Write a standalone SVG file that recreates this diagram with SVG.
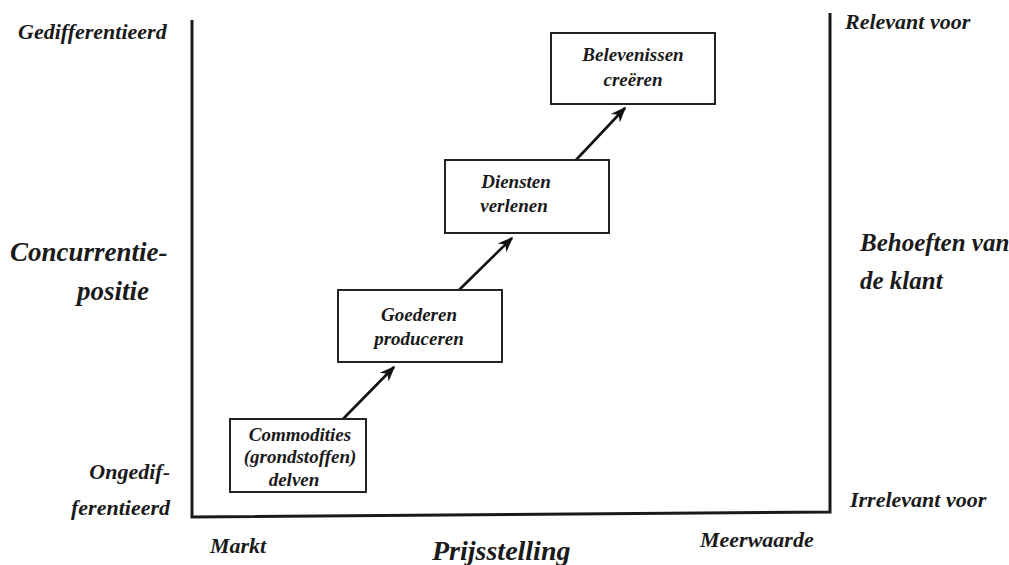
<svg xmlns="http://www.w3.org/2000/svg" width="1009" height="565" viewBox="0 0 1009 565">
  <style>
    .lbl { font-family: "Liberation Serif", "DejaVu Serif", serif; font-style: italic; font-weight: bold; fill: #1a1a1a; }
    .axis { fill: none; stroke: #1a1a1a; stroke-width: 3; }
    .box { fill: #fff; stroke: #222; stroke-width: 2; }
    .btxt { font-size: 19px; text-anchor: middle; }
    .conn { stroke: #111; stroke-width: 2.6; fill: none; marker-end: url(#ah); }
  </style>
  <defs>
    <marker id="ah" viewBox="0 0 10 10" refX="9" refY="5" markerWidth="6" markerHeight="6" markerUnits="strokeWidth" orient="auto">
      <path d="M0,1 L10,5 L0,9 L3,5 Z" fill="#111"/>
    </marker>
  </defs>
  <rect width="1009" height="565" fill="#fff"/>

  <!-- axes frame -->
  <g id="axes">
    <path class="axis" d="M192,20 L192,517 L830,512 L830,13"/>
  </g>

  <!-- axis labels -->
  <g id="labels" class="lbl">
    <text x="18" y="39" font-size="22">Gedifferentieerd</text>
    <text x="10" y="261" font-size="27">Concurrentie-</text>
    <text x="77" y="300" font-size="27">positie</text>
    <text x="170" y="479" font-size="22" text-anchor="end">Ongedif-</text>
    <text x="170" y="515" font-size="22" text-anchor="end">ferentieerd</text>
    <text x="210" y="553" font-size="22">Markt</text>
    <text x="432" y="560" font-size="28">Prijsstelling</text>
    <text x="700" y="547" font-size="22">Meerwaarde</text>
    <text x="845" y="29" font-size="22">Relevant voor</text>
    <text x="860" y="251" font-size="25">Behoeften van</text>
    <text x="860" y="289" font-size="25">de klant</text>
    <text x="850" y="507" font-size="22">Irrelevant voor</text>
  </g>

  <!-- connectors -->
  <g id="connectors">
    <line class="conn" x1="343" y1="419" x2="394" y2="367"/>
    <line class="conn" x1="459" y1="290" x2="512" y2="238"/>
    <line class="conn" x1="576" y1="160" x2="625" y2="108"/>
  </g>

  <!-- nodes -->
  <g id="node-commodities">
    <rect class="box" x="230" y="419" width="136" height="73"/>
    <text class="lbl btxt" x="300" y="441">Commodities</text>
    <text class="lbl btxt" x="300" y="463">(grondstoffen)</text>
    <text class="lbl btxt" x="294" y="486">delven</text>
  </g>
  <g id="node-goederen">
    <rect class="box" x="338" y="290" width="164" height="72"/>
    <text class="lbl btxt" x="419" y="321">Goederen</text>
    <text class="lbl btxt" x="419" y="345">produceren</text>
  </g>
  <g id="node-diensten">
    <rect class="box" x="445" y="160" width="164" height="73"/>
    <text class="lbl btxt" x="516" y="188">Diensten</text>
    <text class="lbl btxt" x="514" y="212">verlenen</text>
  </g>
  <g id="node-belevenissen">
    <rect class="box" x="551" y="33" width="164" height="71"/>
    <text class="lbl btxt" x="633" y="61">Belevenissen</text>
    <text class="lbl btxt" x="633" y="86">creëren</text>
  </g>
</svg>
